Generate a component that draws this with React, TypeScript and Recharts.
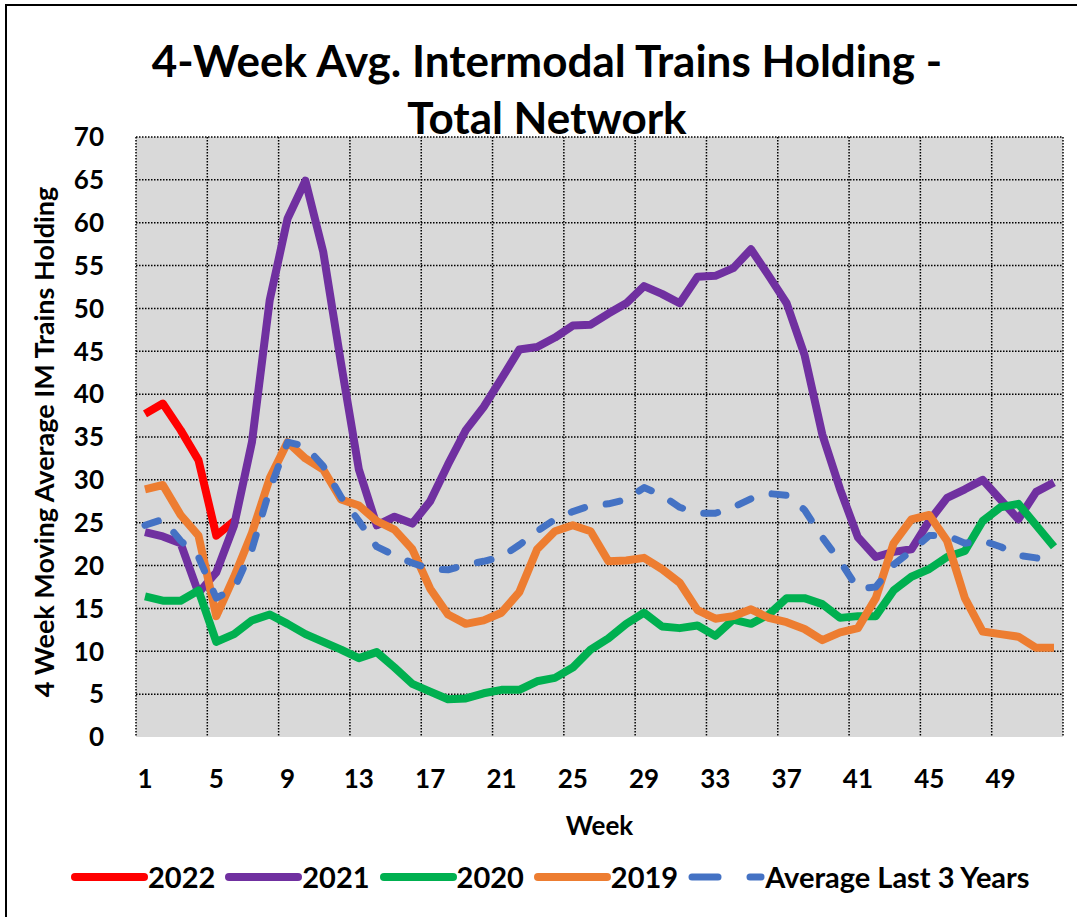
import React from "react";
import { LineChart, Line, XAxis, YAxis, CartesianGrid, Label } from "recharts";

// weeks 1..52
const weeks = Array.from({ length: 52 }, (_, i) => i + 1);

const y2022 = [37.7, 38.9, 35.8, 32.3, 23.5, 25.2];

const y2021 = [
  23.9, 23.4, 22.6, 16.8, 19.2, 24.7, 34.4, 51.0, 60.5, 64.9,
  56.6, 43.6, 31.2, 24.7, 25.7, 24.9, 27.5, 31.8, 35.8, 38.5,
  41.8, 45.2, 45.5, 46.6, 48.0, 48.1, 49.4, 50.6, 52.6, 51.7,
  50.6, 53.7, 53.8, 54.7, 56.9, 53.8, 50.6, 44.6, 35.3, 28.9,
  23.3, 21.0, 21.6, 21.9, 25.2, 27.9, 28.9, 30.0, 27.7, 25.4,
  28.6, 29.7,
];

const y2020 = [
  16.4, 15.9, 15.9, 17.1, 11.1, 12.0, 13.6, 14.3, 13.2, 12.0,
  11.1, 10.2, 9.2, 9.9, 8.1, 6.2, 5.3, 4.4, 4.5, 5.1,
  5.5, 5.5, 6.5, 6.9, 8.1, 10.2, 11.5, 13.2, 14.5, 12.9,
  12.7, 13.0, 11.8, 13.7, 13.2, 14.3, 16.2, 16.2, 15.5, 13.9,
  14.1, 14.1, 17.1, 18.7, 19.6, 21.0, 21.7, 25.2, 26.8, 27.2,
  24.7, 22.2,
];

const y2019 = [
  28.9, 29.4, 25.9, 23.5, 14.1, 18.7, 23.8, 30.2, 34.4, 32.5,
  31.2, 27.7, 27.0, 25.2, 24.2, 21.9, 17.3, 14.3, 13.2, 13.6,
  14.5, 16.9, 21.9, 24.0, 24.7, 24.0, 20.5, 20.6, 20.9, 19.6,
  18.0, 14.8, 13.8, 14.1, 14.9, 13.9, 13.4, 12.6, 11.3, 12.2,
  12.7, 16.2, 22.6, 25.4, 25.9, 22.9, 16.2, 12.3, 12.0, 11.7,
  10.4, 10.4,
];

const avg3 = [
  24.7, 25.4, 22.9, 21.0, 16.2, 17.3, 21.9, 28.9, 34.4, 33.9,
  31.6, 28.0, 25.2, 22.2, 21.2, 20.3, 19.6, 19.5, 20.1, 20.5,
  21.0, 22.4, 24.0, 25.4, 26.3, 27.0, 27.2, 27.7, 29.1, 28.2,
  26.8, 26.1, 26.1, 26.8, 27.8, 28.4, 28.2, 26.5, 23.3, 20.5,
  17.3, 17.5, 20.1, 21.7, 23.5, 23.5, 22.6, 22.9, 22.2, 21.2,
  20.9, 20.5,
];

const yTicks = [0, 5, 10, 15, 20, 25, 30, 35, 40, 45, 50, 55, 60, 65, 70];

const data = weeks.map((w, i) => ({
  week: w,
  y2022: i < y2022.length ? y2022[i] : null,
  y2021: y2021[i],
  y2020: y2020[i],
  y2019: y2019[i],
  avg: avg3[i],
}));

const FONT = "Lato, 'Open Sans', sans-serif";

const legendItems = [
  { label: "2022", color: "#ff0000", dash: false },
  { label: "2021", color: "#7030a0", dash: false },
  { label: "2020", color: "#00b050", dash: false },
  { label: "2019", color: "#ed7d31", dash: false },
  { label: "Average Last 3 Years", color: "#4472c4", dash: true },
];

export default function App() {
  return (
    <div
      style={{
        position: "absolute",
        left: 0,
        top: 0,
        width: 1077,
        height: 917,
        overflow: "hidden",
        background: "#fff",
        fontFamily: FONT,
      }}
    >
      {/* outer frame */}
      <div
        style={{
          position: "absolute",
          left: 5,
          top: 4,
          width: 1100,
          height: 940,
          border: "2px solid #000",
          boxSizing: "border-box",
        }}
      />
      <div
        style={{
          position: "absolute",
          left: 0,
          top: 32,
          width: 1094,
          textAlign: "center",
          fontSize: 44,
          fontWeight: 700,
          lineHeight: "57px",
          color: "#000",
        }}
      >
        4-Week Avg. Intermodal Trains Holding -<br />
        Total Network
      </div>

      <div style={{ position: "absolute", left: 0, top: 0 }}>
        <LineChart
          width={1077}
          height={917}
          data={data}
          margin={{ top: 137, right: 14, bottom: 0, left: 0 }}
        >
          <CartesianGrid
            fill="#d9d9d9"
            fillOpacity={1}
            stroke="#000"
            strokeWidth={1.5}
            strokeDasharray="1.5 1.5"
            horizontalValues={yTicks.slice(1)}
            verticalCoordinatesGenerator={({ offset }: any) =>
              Array.from({ length: 14 }, (_, k) => offset.left + (k * 4 * offset.width) / 52)
            }
          />
          <XAxis
            dataKey="week"
            interval={3}
            height={180}
            padding={{ left: 9, right: 9 }}
            axisLine={false}
            tickLine={false}
            tickMargin={27}
            tick={{ fill: "#000", fontSize: 26, fontWeight: 700, fontFamily: FONT }}
          >
            <Label
              content={({ viewBox }: any) => (
                <text
                  x={viewBox.x + viewBox.width / 2}
                  y={viewBox.y + 98}
                  textAnchor="middle"
                  fontSize={26}
                  fontWeight={700}
                  fontFamily={FONT}
                  fill="#000"
                >
                  Week
                </text>
              )}
            />
          </XAxis>
          <YAxis
            domain={[0, 70]}
            ticks={yTicks}
            width={136}
            axisLine={false}
            tickLine={false}
            tickMargin={26}
            tick={{ fill: "#000", fontSize: 26, fontWeight: 700, fontFamily: FONT }}
          >
            <Label
              content={({ viewBox }: any) => {
                const cx = 43;
                const cy = viewBox.y + viewBox.height / 2 + 5;
                return (
                  <text
                    x={cx}
                    y={cy}
                    transform={`rotate(-90 ${cx} ${cy})`}
                    textAnchor="middle"
                    dominantBaseline="central"
                    fontSize={27}
                    fontWeight={700}
                    fontFamily={FONT}
                    fill="#000"
                  >
                    4 Week Moving Average IM Trains Holding
                  </text>
                );
              }}
            />
          </YAxis>
          <Line dataKey="y2022" stroke="#ff0000" strokeWidth={8} dot={false} isAnimationActive={false} strokeLinejoin="round" connectNulls={false} />
          <Line dataKey="y2021" stroke="#7030a0" strokeWidth={8} dot={false} isAnimationActive={false} strokeLinejoin="round" />
          <Line dataKey="y2020" stroke="#00b050" strokeWidth={8} dot={false} isAnimationActive={false} strokeLinejoin="round" />
          <Line dataKey="y2019" stroke="#ed7d31" strokeWidth={8} dot={false} isAnimationActive={false} strokeLinejoin="round" />
          <Line dataKey="avg" stroke="#4472c4" strokeWidth={7} strokeDasharray="14 22" strokeLinecap="round" dot={false} isAnimationActive={false} strokeLinejoin="round" />
        </LineChart>
      </div>

      {/* legend */}
      <div
        style={{
          position: "absolute",
          left: 71,
          top: 860,
          display: "flex",
          alignItems: "center",
          height: 34,
        }}
      >
        {legendItems.map((it) => (
          <div key={it.label} style={{ display: "flex", alignItems: "center", marginRight: 10 }}>
            <svg width={77} height={14}>
              {it.dash ? (
                <>
                  <line x1={4} y1={7} x2={30} y2={7} stroke={it.color} strokeWidth={7} strokeLinecap="round" />
                  <line x1={62} y1={7} x2={73} y2={7} stroke={it.color} strokeWidth={7} strokeLinecap="round" />
                </>
              ) : (
                <line x1={4} y1={7} x2={73} y2={7} stroke={it.color} strokeWidth={8} strokeLinecap="round" />
              )}
            </svg>
            <span style={{ fontSize: 29, fontWeight: 700, color: "#000", lineHeight: "34px" }}>{it.label}</span>
          </div>
        ))}
      </div>
    </div>
  );
}
